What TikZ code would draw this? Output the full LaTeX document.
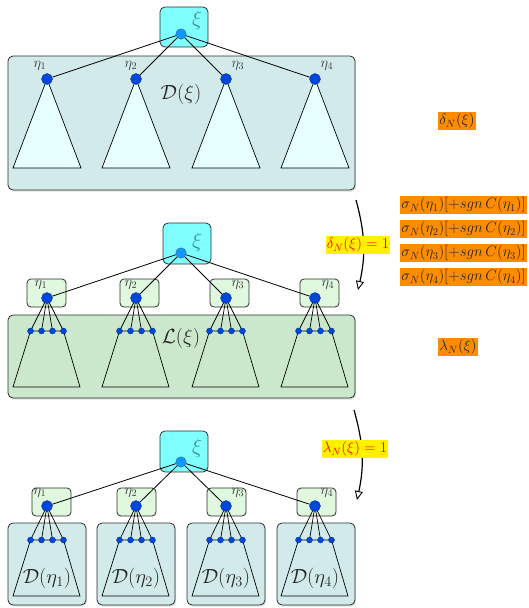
\documentclass[tikz,border=0pt]{standalone}
\usepackage{fix-cm}
\usetikzlibrary{arrows.meta,shadows}

\definecolor{rootfillcol}{RGB}{128,255,255}
\definecolor{treeboxcol}{RGB}{210,234,234}
\definecolor{treefillcol}{RGB}{232,255,255}
\definecolor{leafboxcol}{RGB}{204,232,204}
\definecolor{kidboxcol}{RGB}{224,248,222}
\definecolor{rootdotcol}{RGB}{20,150,255}
\definecolor{kiddotcol}{RGB}{0,70,220}
\definecolor{framecol}{RGB}{45,45,45}
\definecolor{xitextcol}{RGB}{60,140,150}
\definecolor{etatextcol}{RGB}{60,60,60}
\definecolor{tagorange}{RGB}{255,140,0}

\pgfdeclarelayer{back}
\pgfdeclarelayer{lines}
\pgfsetlayers{back,lines,main}

\tikzset{
  panel/.style={draw=framecol, line width=0.8pt, rounded corners=5pt, inner sep=0pt,
    drop shadow={shadow xshift=1.2pt, shadow yshift=-1.6pt, opacity=0.25}},
  treepanel/.style={panel, fill=treeboxcol},
  leafpanel/.style={panel, fill=leafboxcol},
  rootbox/.style={draw=framecol, line width=0.8pt, rounded corners=5pt, fill=rootfillcol,
    inner sep=0pt, minimum width=48pt, minimum height=40pt},
  kidbox/.style={draw=framecol, line width=0.8pt, rounded corners=4pt, fill=kidboxcol,
    inner sep=0pt, minimum width=39pt, minimum height=28pt},
  rootdot/.style={circle, fill=rootdotcol, draw=rootdotcol!60!black, line width=0.3pt,
    minimum size=10.5pt, inner sep=0pt},
  kiddot/.style={circle, fill=kiddotcol, draw=kiddotcol!60!black, line width=0.3pt,
    minimum size=11pt, inner sep=0pt},
  leafdot/.style={circle, fill=kiddotcol, draw=kiddotcol!60!black, line width=0.3pt,
    minimum size=6pt, inner sep=0pt},
  edge/.style={draw=black, line width=0.8pt},
  tree/.style={draw=black, line width=0.7pt, fill=treefillcol},
  trunk/.style={draw=black, line width=0.7pt},
  xilabel/.style={text=xitextcol, inner sep=0pt, font=\fontsize{21}{24}\selectfont},
  etalabel/.style={text=etatextcol, inner sep=0pt, font=\fontsize{14.5}{16}\selectfont},
  setlabel/.style={text=black!85, inner sep=0pt, font=\fontsize{20.5}{23}\selectfont},
  tag/.style={fill=tagorange, inner sep=1.3pt, text=black!85, font=\fontsize{15}{17}\selectfont},
  cond/.style={fill=yellow, inner sep=1.3pt, text=red, font=\fontsize{15}{17}\selectfont},
  flow/.style={draw=black, line width=1.2pt,
    -{Triangle[open, length=9pt, width=8pt, line width=0.9pt]}},
}

\begin{document}
\begin{tikzpicture}[x=1pt, y=-1pt]
\useasboundingbox (0,0) rectangle (528,608);

% ---------------- first stage: the whole subtree D(xi) ----------------
\begin{pgfonlayer}{back}
  \node[treepanel, minimum width=347pt, minimum height=134pt] (Dxi) at (181.5,123) {};
  \node[rootbox] (r1box) at (184,27) {};
\end{pgfonlayer}
\node[rootdot] (r1) at (181,34) {};
\node[xilabel] (r1lab) at (197,20) {$\xi$};
\node[setlabel] (Dxilab) at (181,94) {$\mathcal{D}(\xi)$};

\foreach \i/\cx/\lx in {1/47/40, 2/136/131, 3/226/238, 4/315/327} {
  \node[kiddot] (a\i) at (\cx,79) {};
  \node[etalabel] (a\i lab) at (\lx,66) {$\eta_{\i}$};
  \begin{pgfonlayer}{lines}
    \draw[tree] (a\i.center) -- ++(-34,89) -- ++(68,0) -- cycle;
    \draw[edge] (r1) -- (a\i);
  \end{pgfonlayer}
}

% ---------------- second stage: the leaf layer L(xi) ----------------
\begin{pgfonlayer}{back}
  \node[leafpanel, minimum width=347pt, minimum height=83pt] (Lxi) at (181.5,356.5) {};
  \node[rootbox, minimum height=41pt] (r2box) at (187,243.5) {};
\end{pgfonlayer}
\node[rootdot] (r2) at (181,253) {};
\node[xilabel] (r2lab) at (197,242) {$\xi$};
\node[setlabel] (Lxilab) at (181,338) {$\mathcal{L}(\xi)$};

\foreach \i/\cx/\bx/\lx in {1/47/46.5/41, 2/136/139.5/131, 3/226/229.5/238, 4/315/319.5/328} {
  \begin{pgfonlayer}{back}
    \node[kidbox] (b\i box) at (\bx,293) {};
  \end{pgfonlayer}
  \node[kiddot] (b\i) at (\cx,298) {};
  \node[etalabel] (b\i lab) at (\lx,285) {$\eta_{\i}$};
  \foreach \j/\dx in {a/-16.5, b/-5.5, c/5.5, d/16.5}
    \node[leafdot] (b\i\j) at (\cx+\dx,331) {};
  \begin{pgfonlayer}{lines}
    \draw[trunk] (b\i a.center) -- (\cx-34,387) -- (\cx+33,387) -- (b\i d.center) -- cycle;
    \foreach \j in {a,b,c,d}
      \draw[trunk] (b\i.center) -- (b\i\j.center);
    \draw[edge] (r2) -- (b\i);
  \end{pgfonlayer}
}

% ---------------- third stage: one subtree D(eta_i) per child ----------------
\begin{pgfonlayer}{back}
  \node[rootbox, minimum height=41pt] (r3box) at (184,451.5) {};
\end{pgfonlayer}
\node[rootdot] (r3) at (181,462) {};
\node[xilabel] (r3lab) at (197,448) {$\xi$};

\foreach \i/\cx/\bx/\px/\lx in {1/47/51.5/47/40, 2/136/136.5/136/131, 3/226/226.5/226/238, 4/315/316.5/316/327} {
  \begin{pgfonlayer}{back}
    \node[treepanel, minimum width=78pt, minimum height=82pt] (c\i panel) at (\px,564) {};
    \node[kidbox] (c\i box) at (\bx,502) {};
  \end{pgfonlayer}
  \node[kiddot] (c\i) at (\cx,506) {};
  \node[etalabel] (c\i lab) at (\lx,493) {$\eta_{\i}$};
  \foreach \j/\dx in {a/-16.5, b/-5.5, c/5.5, d/16.5}
    \node[leafdot] (c\i\j) at (\cx+\dx,540) {};
  \node[setlabel] (c\i set) at (\cx,578) {$\mathcal{D}(\eta_{\i})$};
  \begin{pgfonlayer}{lines}
    \draw[trunk] (c\i a.center) -- (\cx-34,596) -- (\cx+33,596) -- (c\i d.center) -- cycle;
    \foreach \j in {a,b,c,d}
      \draw[trunk] (c\i.center) -- (c\i\j.center);
    \draw[edge] (r3) -- (c\i);
  \end{pgfonlayer}
}

% ---------------- transitions and their conditions ----------------
\coordinate (f1s) at (356,200);
\coordinate (f1e) at (358,290);
\draw[flow] (f1s) to[bend left=14] (f1e);
\node[cond] (f1lab) at (358,245) {$\delta_N(\xi)=1$};

\coordinate (f2s) at (354,410);
\coordinate (f2e) at (357,500);
\draw[flow] (f2s) to[bend left=14] (f2e);
\node[cond] (f2lab) at (355,449) {$\lambda_N(\xi)=1$};

\node[tag] (tdelta) at (457,121) {$\delta_N(\xi)$};
\foreach \i/\y in {1/205, 2/229, 3/253, 4/277}
  \node[tag] (tsigma\i) at (463.5,\y) {$\sigma_N(\eta_{\i})[+sgn\,C(\eta_{\i})]$};
\node[tag] (tlambda) at (458,347) {$\lambda_N(\xi)$};

\end{tikzpicture}
\end{document}
